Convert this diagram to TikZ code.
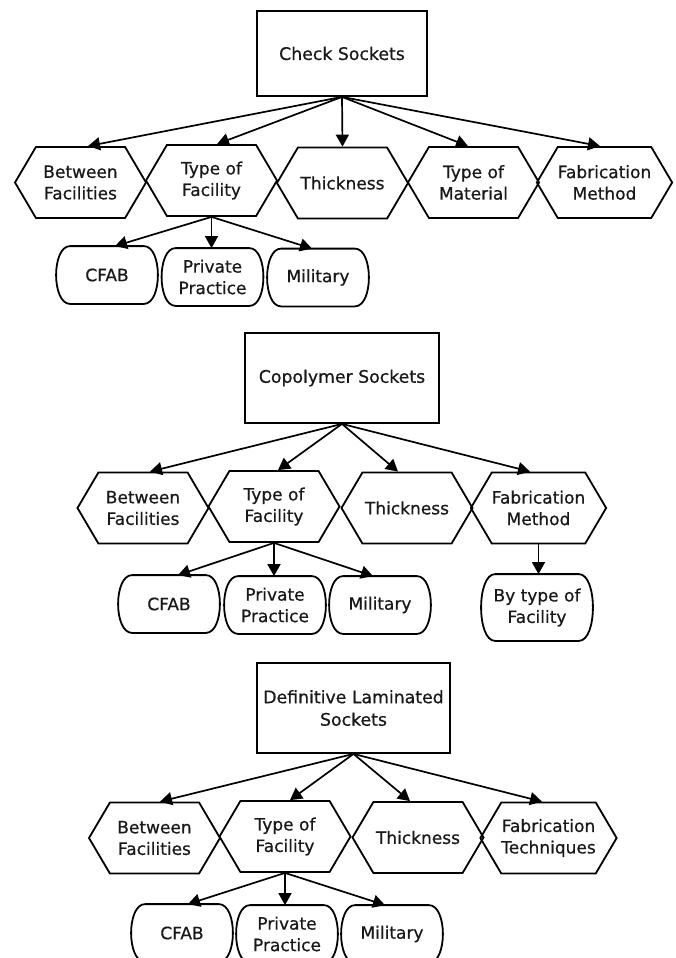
\documentclass[tikz,border=0pt]{standalone}
\usepackage{fontspec}
\setmainfont{DejaVu Sans}[BoldFont=DejaVu Sans, BoldFeatures={FakeBold=0.6}]
\usetikzlibrary{shapes.misc,shapes.symbols,arrows.meta}
\newcommand\leafoutline[1]{%
  \draw[line width=1.8pt] ([xshift=14pt]#1.north west) -- ([xshift=-14pt]#1.north east)
    .. controls ([xshift=4.67pt]#1.north east) and ([xshift=4.67pt]#1.south east) .. ([xshift=-14pt]#1.south east)
    -- ([xshift=14pt]#1.south west)
    .. controls ([xshift=-4.67pt]#1.south west) and ([xshift=-4.67pt]#1.north west) .. cycle;}
\begin{document}
\begin{tikzpicture}[x=1pt,y=-1pt,
  every node/.style={font=\bfseries\fontsize{17}{21.5}\selectfont, align=center, inner sep=0pt, line width=1.8pt, text=black!90},
  topbox/.style={draw, rectangle, font=\bfseries\fontsize{17.3}{22.5}\selectfont},
  hexbox/.style={draw, signal, signal to=east and west, signal pointer angle=119, minimum width=131pt, minimum height=71pt},
  leafbox/.style={rectangle, minimum width=100pt, minimum height=56pt},
  conn/.style={line width=1.7pt, -{Triangle[length=12pt,width=13pt]}}
]
\useasboundingbox (0,0) rectangle (675,958);
\fill[white] (0,0) rectangle (675,958);

% ---------- Section 1 ----------
\node[topbox, minimum width=170pt, minimum height=85pt] (c1) at (342,53.5) {Check Sockets};
\node[hexbox] (h11) at (80.5,182.5) {Between\\Facilities};
\node[hexbox] (h12) at (211.5,180.5) {Type of\\Facility};
\node[hexbox] (h13) at (342.5,183) {Thickness};
\node[hexbox] (h14) at (473.5,182.5) {Type of\\Material};
\node[hexbox] (h15) at (604.5,182.5) {Fabrication\\Method};
\draw[conn] (c1.south) -- ([xshift=7.5pt]h11.north);
\draw[conn] (c1.south) -- ([xshift=5.5pt]h12.north);
\draw[conn] (c1.south) -- (h13.north);
\draw[conn] (c1.south) -- ([xshift=-5.5pt]h14.north);
\draw[conn] (c1.south) -- ([xshift=-4.5pt]h15.north);
\node[leafbox] (l11) at (107,275) {CFAB};
\node[leafbox] (l12) at (212.5,277) {Private\\Practice};
\node[leafbox] (l13) at (318,277.5) {Military};
\leafoutline{l11}\leafoutline{l12}\leafoutline{l13}
\draw[conn] (h12.south) -- ([xshift=8pt]l11.north);
\draw[conn] (h12.south) -- (h12.south |- l12.north);
\draw[conn] (h12.south) -- ([xshift=-6pt]l13.north);

% ---------- Section 2 ----------
\node[topbox, minimum width=194pt, minimum height=90pt] (c2) at (342,378) {Copolymer Sockets};
\node[hexbox] (h21) at (143,508) {Between\\Facilities};
\node[hexbox] (h22) at (274,506.5) {Type of\\Facility};
\node[hexbox] (h23) at (407,508) {Thickness};
\node[hexbox] (h24) at (538.5,508) {Fabrication\\Method};
\draw[conn] (c2.south) -- ([xshift=7pt]h21.north);
\draw[conn] (c2.south) -- ([xshift=4pt]h22.north);
\draw[conn] (c2.south) -- ([xshift=-9pt]h23.north);
\draw[conn] (c2.south) -- ([xshift=-8.5pt]h24.north);
\node[leafbox] (l21) at (169,604) {CFAB};
\node[leafbox] (l22) at (275,605) {Private\\Practice};
\node[leafbox] (l23) at (380,605) {Military};
\node[leafbox, minimum width=110pt, minimum height=65pt] (l24) at (537,607.5) {By type of\\Facility};
\leafoutline{l21}\leafoutline{l22}\leafoutline{l23}\leafoutline{l24}
\draw[conn] (h22.south) -- ([xshift=9pt]l21.north);
\draw[conn] (h22.south) -- (h22.south |- l22.north);
\draw[conn] (h22.south) -- ([xshift=-7pt]l23.north);
\draw[conn] (h24.south) -- (h24.south |- l24.north);

% ---------- Section 3 ----------
\node[topbox, minimum width=193pt, minimum height=90pt] (c3) at (353.5,708) {Definitive Laminated\\Sockets};
\node[hexbox] (h31) at (154.5,838) {Between\\Facilities};
\node[hexbox] (h32) at (285,836.5) {Type of\\Facility};
\node[hexbox] (h33) at (418,837.5) {Thickness};
\node[hexbox] (h34) at (548.5,838) {Fabrication\\Techniques};
\draw[conn] (c3.south) -- ([xshift=5.5pt]h31.north);
\draw[conn] (c3.south) -- ([xshift=5pt]h32.north);
\draw[conn] (c3.south) -- ([xshift=-8pt]h33.north);
\draw[conn] (c3.south) -- ([xshift=-6.5pt]h34.north);
\node[leafbox] (l31) at (182,933) {CFAB};
\node[leafbox] (l32) at (287,934) {Private\\Practice};
\node[leafbox] (l33) at (392,934) {Military};
\leafoutline{l31}\leafoutline{l32}\leafoutline{l33}
\draw[conn] (h32.south) -- ([xshift=6pt]l31.north);
\draw[conn] (h32.south) -- (h32.south |- l32.north);
\draw[conn] (h32.south) -- ([xshift=-7pt]l33.north);
\end{tikzpicture}
\end{document}
